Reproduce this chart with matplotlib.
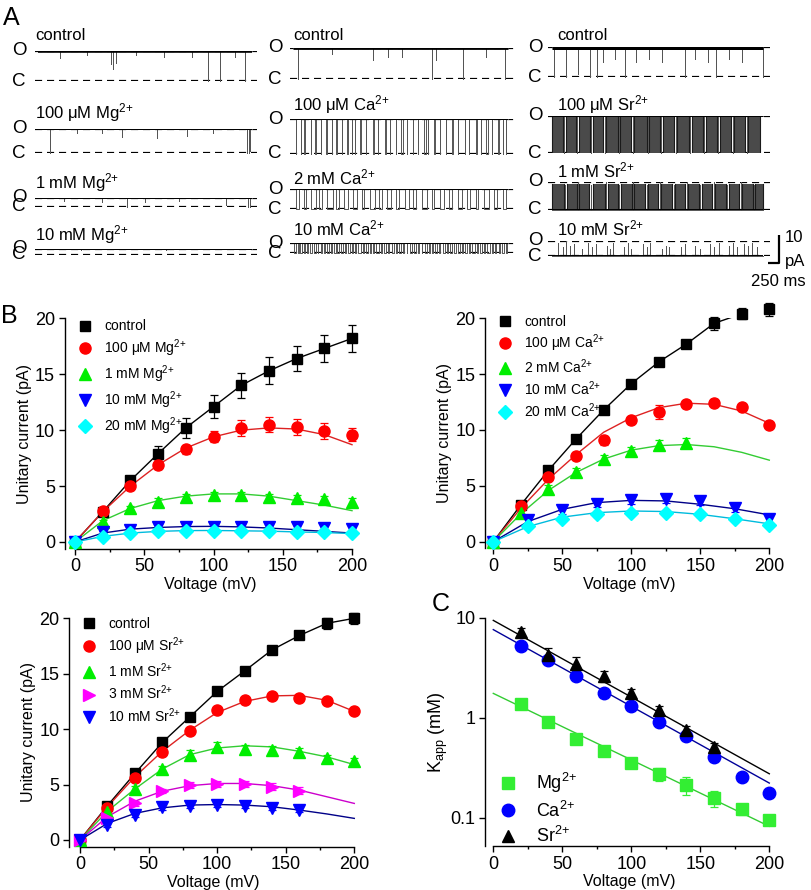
import numpy as np
import matplotlib
matplotlib.use("Agg")
import matplotlib.pyplot as plt
from matplotlib.lines import Line2D

plt.rcParams["font.family"] = ["Liberation Sans", "DejaVu Sans"]
plt.rcParams["mathtext.fontset"] = "custom"
plt.rcParams["mathtext.rm"] = "Liberation Sans"
plt.rcParams["mathtext.it"] = "Liberation Sans:italic"
plt.rcParams["mathtext.default"] = "regular"

W, H = 812, 890
SUP = r"$^{2{+}}$"

# ---------------- panel A: single-channel traces (events in ms) ----------------
T_MS = 5000
trace_labels = [
    ["control", "100 μM Mg" + SUP, "1 mM Mg" + SUP, "10 mM Mg" + SUP],
    ["control", "100 μM Ca" + SUP, "2 mM Ca" + SUP, "10 mM Ca" + SUP],
    ["control", "100 μM Sr" + SUP, "1 mM Sr" + SUP, "10 mM Sr" + SUP],
]
# apparent unitary amplitude (pA) of each trace
trace_amp = [
    [10.8, 8.9, 3.2, 2.1],
    [11.1, 12.5, 7.1, 3.6],
    [10.7, 13.2, 10.0, 5.4],
]
# level the channel mostly sits at
trace_base = [
    ["O", "O", "O", "O"],
    ["O", "O", "O", "O"],
    ["O", "O", "C", "C"],
]
# events: (time ms, duration ms, fraction of the way to the other level)
mg_ctrl = [(520, 0, .25), (1150, 0, .15), (1700, 0, .45), (1760, 0, .6), (1820, 0, .4),
           (2300, 0, .15), (2950, 0, .2), (3600, 0, .2), (3980, 0, 1), (4250, 0, 1),
           (4600, 0, .2), (4840, 0, 1)]
mg_100u = [(280, 0, 1), (900, 0, .2), (1500, 0, .2), (1960, 0, .35), (2780, 0, .4),
           (3480, 0, .3), (4100, 0, .2), (4880, 0, 1), (4920, 0, 1), (4960, 0, .9)]
mg_1m = [(600, 0, .4), (1500, 0, .5), (2080, 0, 1), (2500, 0, .5), (3300, 0, .4),
         (4400, 0, .8), (4900, 0, 1), (4950, 0, 1)]
mg_10m = [(1000, 0, .3), (3000, 0, .3)]

ca_ctrl = [(110, 0, 1), (900, 0, .2), (1860, 0, .4), (2200, 0, .3), (2530, 0, .3),
           (3230, 0, 1), (3330, 0, .4), (3950, 0, 1), (4500, 0, .3), (4930, 0, 1)]
ca_100u = [(60, 20, 1), (180, 0, 1), (250, 30, 1), (420, 0, 1), (520, 25, 1), (640, 0, 1),
           (760, 40, 1), (900, 0, 1), (1010, 20, 1), (1150, 0, 1), (1260, 30, 1), (1380, 0, 1),
           (1450, 0, 1), (1560, 25, 1), (1700, 0, 1), (1850, 35, 1), (1980, 0, 1), (2150, 20, 1),
           (2250, 0, 1), (2400, 0, 1), (2520, 30, 1), (2640, 0, 1), (2780, 20, 1), (2900, 0, 1),
           (3050, 40, 1), (3150, 0, 1), (3280, 25, 1), (3420, 0, 1), (3560, 0, 1), (3700, 30, 1),
           (3830, 0, 1), (3990, 20, 1), (4100, 0, 1), (4260, 30, 1), (4380, 0, 1), (4500, 25, 1),
           (4620, 0, 1), (4760, 20, 1), (4880, 0, 1), (4950, 0, 1)]
ca_2m = [(60, 90, 1), (250, 60, 1), (420, 110, 1), (610, 70, 1), (800, 120, 1), (1000, 60, 1),
         (1180, 100, 1), (1400, 80, 1), (1600, 60, 1), (1780, 120, 1), (1990, 70, 1),
         (2180, 100, 1), (2400, 60, 1), (2600, 90, 1), (2800, 70, 1), (3000, 110, 1),
         (3230, 60, 1), (3420, 90, 1), (3620, 70, 1), (3830, 100, 1), (4040, 80, 1),
         (4250, 60, 1), (4450, 110, 1), (4680, 70, 1), (4880, 80, 1)]
ca_10m = [(30, 40, 1), (110, 20, 1), (170, 50, 1), (260, 30, 1), (330, 20, 1), (390, 60, 1),
          (500, 30, 1), (570, 20, 1), (640, 40, 1), (720, 30, 1), (790, 50, 1), (880, 20, 1),
          (950, 40, 1), (1030, 30, 1), (1110, 60, 1), (1220, 20, 1), (1290, 40, 1), (1370, 30, 1),
          (1450, 20, 1), (1520, 50, 1), (1620, 30, 1), (1700, 40, 1), (1790, 20, 1), (1860, 30, 1),
          (1940, 60, 1), (2050, 20, 1), (2120, 40, 1), (2210, 30, 1), (2300, 50, 1), (2400, 20, 1),
          (2470, 40, 1), (2560, 30, 1), (2640, 20, 1), (2710, 60, 1), (2820, 30, 1), (2900, 40, 1),
          (2990, 20, 1), (3060, 50, 1), (3160, 30, 1), (3240, 20, 1), (3310, 40, 1), (3400, 30, 1),
          (3480, 60, 1), (3590, 20, 1), (3660, 40, 1), (3750, 30, 1), (3830, 50, 1), (3930, 20, 1),
          (4000, 40, 1), (4090, 30, 1), (4170, 60, 1), (4280, 20, 1), (4350, 40, 1), (4440, 30, 1),
          (4520, 50, 1), (4620, 20, 1), (4690, 40, 1), (4780, 30, 1), (4860, 50, 1), (4950, 20, 1)]

sr_ctrl = [(40, 0, 1), (320, 0, 1), (620, 0, .9), (900, 0, 1), (1060, 0, 1), (1200, 0, .5),
           (1500, 0, .4), (1720, 0, 1), (2000, 0, .5), (2300, 0, .4), (2600, 0, .5), (3140, 0, 1),
           (3400, 0, .4), (3700, 0, .5), (3890, 0, 1), (4200, 0, .4), (4500, 0, .5), (4990, 0, 1)]
sr_100u = [(280, 0, 1), (600, 0, 1), (930, 0, 1), (1250, 0, 1), (1590, 0, 1), (1910, 0, 1),
           (2270, 0, 1), (2590, 0, 1), (2930, 0, 1), (3280, 0, 1), (3610, 0, 1), (3930, 0, 1),
           (4280, 0, 1), (4610, 0, 1)]
sr_1m = [(310, 0, .9), (620, 0, 1), (920, 0, .9), (1280, 0, 1), (1590, 0, .9), (1920, 0, 1),
         (2240, 0, .9), (2550, 0, 1), (2880, 0, .9), (3190, 0, 1), (3510, 0, .9), (3830, 0, 1),
         (4150, 0, .9), (4470, 0, 1), (4790, 0, .9)]
sr_10m = [(150, 0, .9), (250, 0, .6), (330, 0, 1), (420, 0, .7), (520, 0, .8), (700, 0, .5),
          (850, 0, .9), (950, 0, .6), (1050, 0, .8), (1300, 0, .7), (1380, 0, .5), (1450, 0, .9),
          (1700, 0, .6), (1800, 0, .9), (1880, 0, .5), (2150, 0, .8), (2250, 0, .6), (2330, 0, .9),
          (2600, 0, .5), (2700, 0, .7), (2780, 0, .6), (3050, 0, .6), (3150, 0, .8), (3400, 0, .7),
          (3500, 0, .5), (3750, 0, .8), (3850, 0, .6), (3950, 0, .9), (4200, 0, .7), (4280, 0, .9),
          (4380, 0, .6), (4550, 0, .8), (4650, 0, .7), (4750, 0, .9), (4850, 0, .6)]
# dense flicker bursts (start ms, end ms)
sr_100u_bursts = [(0, 250), (320, 560), (640, 900), (960, 1220), (1290, 1560), (1620, 1880),
                  (1950, 2240), (2300, 2560), (2620, 2900), (2970, 3250), (3320, 3580),
                  (3650, 3900), (3970, 4250), (4320, 4580), (4650, 4920)]
sr_1m_bursts = [(0, 280), (350, 600), (650, 880), (960, 1250), (1320, 1560), (1630, 1900),
                (1950, 2200), (2280, 2520), (2590, 2850), (2920, 3150), (3230, 3480),
                (3550, 3800), (3870, 4120), (4190, 4430), (4510, 4760), (4820, 4990)]

trace_events = [
    [mg_ctrl, mg_100u, mg_1m, mg_10m],
    [ca_ctrl, ca_100u, ca_2m, ca_10m],
    [sr_ctrl, sr_100u, sr_1m, sr_10m],
]
trace_bursts = [
    [[], [], [], []],
    [[], [], [], []],
    [[], sr_100u_bursts, sr_1m_bursts, []],
]

# ---------------- panel B: I-V relations ----------------
v_b = [0, 20, 40, 60, 80, 100, 120, 140, 160, 180, 200]
v_b25 = [0, 25, 50, 75, 100, 125, 150, 175, 200]

mg_ctrl_i = [0, 2.7, 5.5, 7.9, 10.2, 12.1, 14.0, 15.3, 16.4, 17.3, 18.2]
mg_ctrl_e = [0, 0.2, 0.35, 0.7, 0.9, 1.0, 1.1, 1.2, 1.15, 1.2, 1.2]
mg_100u_i = [0, 2.8, 5.0, 6.9, 8.3, 9.4, 10.2, 10.5, 10.3, 9.9, 9.6]
mg_100u_e = [0, 0.2, 0.35, 0.4, 0.4, 0.5, 0.7, 0.65, 0.7, 0.7, 0.6]
mg_1m_i = [0, 1.8, 3.0, 3.6, 4.0, 4.2, 4.2, 4.0, 3.9, 3.8, 3.6]
mg_1m_e = [0, 0.15, 0.2, 0.3, 0.3, 0.3, 0.3, 0.3, 0.3, 0.3, 0.3]
mg_10m_i = [0, 0.9, 1.1, 1.3, 1.35, 1.35, 1.35, 1.3, 1.3, 1.25, 1.2]
mg_10m_e = [0, 0.1, 0.15, 0.2, 0.2, 0.25, 0.3, 0.25, 0.25, 0.2, 0.2]
mg_20m_i = [0, 0.45, 0.8, 0.95, 1.0, 1.0, 0.95, 0.95, 0.9, 0.85, 0.8]
mg_20m_e = [0, 0.1, 0.1, 0.1, 0.1, 0.1, 0.1, 0.1, 0.1, 0.1, 0.1]
mg_100u_fit = [0, 2.7, 5.0, 6.9, 8.4, 9.4, 10.0, 10.2, 10.1, 9.6, 8.7]
mg_1m_fit = [0, 1.9, 3.0, 3.7, 4.1, 4.3, 4.3, 4.1, 3.7, 3.3, 2.8]
mg_10m_fit = [0, 0.8, 1.15, 1.3, 1.38, 1.4, 1.35, 1.25, 1.1, 0.95, 0.8]
mg_20m_fit = [0, 0.5, 0.8, 0.95, 1.02, 1.03, 1.0, 0.97, 0.9, 0.85, 0.75]

ca_ctrl_i = [0, 3.3, 6.4, 9.2, 11.8, 14.15, 16.1, 17.7, 19.55, 20.4, 20.8]
ca_ctrl_e = [0, 0.3, 0.3, 0.3, 0.3, 0.3, 0.3, 0.3, 0.6, 0.5, 0.6]
ca_100u_i = [0, 3.2, 5.8, 7.7, 9.1, 10.9, 11.6, 12.3, 12.45, 12.05, 10.45]
ca_100u_e = [0, 0.3, 0.3, 0.3, 0.4, 0.3, 0.6, 0.3, 0.3, 0.3, 0.3]
ca_2m_i = [0, 2.6, 4.7, 6.2, 7.4, 8.1, 8.7, 8.85]
ca_2m_e = [0, 0.3, 0.4, 0.4, 0.4, 0.4, 0.4, 0.4]
ca_10m_i = [0, 1.9, 2.8, 3.4, 3.7, 3.8, 3.6, 3.0, 2.0]
ca_10m_e = [0, 0.3, 0.3, 0.3, 0.3, 0.3, 0.3, 0.3, 0.3]
ca_20m_i = [0, 1.45, 2.05, 2.45, 2.6, 2.6, 2.45, 2.05, 1.5]
ca_20m_e = [0, 0.2, 0.2, 0.2, 0.2, 0.2, 0.2, 0.2, 0.2]
ca_100u_fit = [0, 3.0, 5.6, 7.8, 9.8, 11.1, 12.0, 12.4, 12.3, 11.7, 10.6]
ca_2m_fit = [0, 2.5, 4.6, 6.2, 7.4, 8.2, 8.6, 8.7, 8.5, 8.0, 7.3]
ca_10m_fit = [0, 1.8, 2.9, 3.5, 3.7, 3.65, 3.35, 2.95, 2.4]
ca_20m_fit = [0, 1.35, 2.2, 2.6, 2.75, 2.7, 2.45, 2.05, 1.6]

sr_ctrl_i = [0, 3.1, 6.0, 8.8, 11.1, 13.4, 15.25, 17.15, 18.45, 19.55, 20.0]
sr_ctrl_e = [0, 0.2, 0.2, 0.3, 0.3, 0.3, 0.3, 0.3, 0.3, 0.5, 0.5]
sr_100u_i = [0, 2.9, 5.6, 7.95, 9.8, 11.7, 12.65, 12.95, 12.85, 12.5, 11.65]
sr_100u_e = [0, 0.2, 0.2, 0.2, 0.2, 0.2, 0.2, 0.2, 0.2, 0.2, 0.2]
sr_1m_i = [0, 2.5, 4.6, 6.4, 7.7, 8.4, 8.2, 8.1, 7.9, 7.4, 7.1]
sr_1m_e = [0, 0.2, 0.3, 0.3, 0.4, 0.4, 0.4, 0.4, 0.4, 0.3, 0.3]
sr_3m_i = [0, 2.0, 3.3, 4.4, 4.95, 5.05, 5.05, 4.8, 4.45]
sr_3m_e = [0, 0.2, 0.2, 0.2, 0.3, 0.3, 0.3, 0.3, 0.3]
sr_10m_i = [0, 1.35, 2.25, 2.95, 3.1, 3.15, 3.1, 2.9, 2.7]
sr_10m_e = [0, 0.2, 0.2, 0.2, 0.2, 0.2, 0.2, 0.2, 0.2]
sr_100u_fit = [0, 3.0, 5.7, 8.0, 9.9, 11.5, 12.5, 13.0, 13.05, 12.6, 11.6]
sr_1m_fit = [0, 2.6, 4.6, 6.4, 7.7, 8.3, 8.5, 8.4, 8.0, 7.5, 6.8]
sr_3m_fit = [0, 2.1, 3.5, 4.4, 4.9, 5.1, 5.1, 4.9, 4.5, 3.9, 3.3]
sr_10m_fit = [0, 1.5, 2.4, 2.9, 3.15, 3.2, 3.15, 3.0, 2.7, 2.35, 1.95]

# ---------------- panel C: Kapp vs voltage ----------------
v_c = [20, 40, 60, 80, 100, 120, 140, 160, 180, 200]
v_c_sr = [20, 40, 60, 80, 100, 120, 140, 160]
kapp_mg = [1.36, 0.91, 0.61, 0.46, 0.356, 0.272, 0.213, 0.157, 0.122, 0.095]
kapp_mg_e = [0.08, 0.05, 0.04, 0.03, 0.03, 0.04, 0.045, 0.03, 0.015, 0.01]
kapp_ca = [5.22, 3.81, 2.6, 1.78, 1.31, 0.905, 0.656, 0.40, 0.254, 0.176]
kapp_ca_e = [0.3, 0.2, 0.15, 0.08, 0.06, 0.05, 0.03, 0.02, 0.01, 0.01]
kapp_sr = [7.2, 4.28, 3.48, 2.6, 1.78, 1.19, 0.753, 0.514]
kapp_sr_e = [0.6, 0.7, 0.6, 0.3, 0.15, 0.12, 0.08, 0.05]
v_fit = [0, 200]
kapp_mg_fit = [1.75, 0.082]
kapp_ca_fit = [7.6, 0.222]
kapp_sr_fit = [9.4, 0.275]

fig = plt.figure(figsize=(W / 100, H / 100), dpi=100)


def box_px(x0, y0, x1, y1):
    return [x0 / W, 1 - y1 / H, (x1 - x0) / W, (y1 - y0) / H]


def ftext(x, y, s, **kw):
    fig.text(x / W, 1 - y / H, s, **kw)


# ---- panel A layout (pixels) ----
# column: label x, O/C letter x, dashed start, trace start, trace end, dashed end
cols_px = [
    (35, 19, 35, 38, 252, 257),
    (293, 275, 290, 293, 508, 515),
    (557, 535, 548, 552, 763, 770),
]
rows_px = [
    [(36, 50.7, 81), (113, 128.5, 153.3), (183, 197.5, 206.5), (235, 248.5, 254.5)],
    [(36, 48, 79), (105, 119, 154), (177, 189, 209), (228, 243, 253)],
    [(36, 47, 77), (105, 116, 153), (170, 182, 210), (228, 241, 256)],
]
ctrl_lw = [2.6, 2.0, 3.6]

ftext(3, 18, "A", fontsize=18, va="center")
for ci in range(3):
    lab_x, let_x, dx0, tx0, tx1, dx1 = cols_px[ci]
    mpp = T_MS / (tx1 - tx0)
    for ri in range(4):
        lab_y, yo, yc = rows_px[ci][ri]
        amp = trace_amp[ci][ri]
        ax = fig.add_axes(box_px(dx0, yo, dx1, yc))
        ax.set_xlim(-(tx0 - dx0) * mpp, T_MS + (dx1 - tx1) * mpp)
        ax.set_ylim(0, amp)
        ax.axis("off")
        xl = ax.get_xlim()
        for lvl in (0, amp):
            ax.plot(xl, [lvl, lvl], color="black", lw=1.6, dashes=(3.2, 2.2), zorder=1)
        base = amp if trace_base[ci][ri] == "O" else 0.0
        other = amp - base
        # dense flicker bursts
        for t0, t1 in trace_bursts[ci][ri]:
            top = amp if base > 0 else amp * 0.92
            ax.fill_between([t0, t1], [0, 0], [top, top], color="#4a4a4a", lw=0, zorder=2)
            ax.plot([t0, t0], [0, top], color="#1a1a1a", lw=0.8, zorder=3)
            ax.plot([t1, t1], [0, top], color="#1a1a1a", lw=0.8, zorder=3)
        # step trace
        xs, ys = [0], [base]
        for t, d, f in trace_events[ci][ri]:
            lvl = base + (other - base) * f
            xs += [t, t, t + d, t + d]
            ys += [base, lvl, lvl, base]
        xs.append(T_MS)
        ys.append(base)
        ax.plot(xs, ys, color="#555555", lw=0.7, zorder=3, clip_on=False)
        ax.plot([0, T_MS], [base, base], color="black",
                lw=ctrl_lw[ci] if ri == 0 else 1.4, zorder=4, solid_capstyle="butt")
        ftext(lab_x, lab_y, trace_labels[ci][ri], fontsize=12, va="center")
        ftext(let_x, yo, "O", fontsize=13.5, va="center", ha="center")
        ftext(let_x, yc, "C", fontsize=13.5, va="center", ha="center")
        if ci == 2 and ri == 3:
            # scale bar: 10 pA, 250 ms
            xb = T_MS + 16 * mpp
            yb = -(263 - yc) * amp / (yc - yo)
            ax.plot([xb - 250, xb, xb], [yb, yb, yb + 10], color="black", lw=1.6,
                    clip_on=False, solid_capstyle="butt")
ftext(785, 237, "10", fontsize=12, va="center")
ftext(785, 262, "pA", fontsize=12, va="center")
ftext(806, 281, "250 ms", fontsize=12, va="center", ha="right")


# ---- panels B and C ----
def make_axes(xcal, ycal, xlim, ylim, log=False):
    (va, pa, vb, pb) = xcal
    sx = (pb - pa) / (vb - va)
    x0 = pa + (xlim[0] - va) * sx
    x1 = pa + (xlim[1] - va) * sx
    (ua, qa, ub, qb) = ycal
    if log:
        fy = lambda v: np.log10(v)
    else:
        fy = lambda v: v
    sy = (qb - qa) / (fy(ub) - fy(ua))
    y_top = qa + (fy(ylim[1]) - fy(ua)) * sy
    y_bot = qa + (fy(ylim[0]) - fy(ua)) * sy
    ax = fig.add_axes(box_px(x0, y_top, x1, y_bot))
    ax.set_xlim(*xlim)
    if log:
        ax.set_yscale("log")
    ax.set_ylim(*ylim)
    for s in ("top", "right"):
        ax.spines[s].set_visible(False)
    ax.spines["bottom"].set_bounds(0, 200)
    ax.set_xticks([0, 50, 100, 150, 200])
    ax.set_xticks([25, 75, 125, 175], minor=True)
    ax.tick_params(which="major", direction="out", length=4, width=1, labelsize=13, pad=3)
    ax.tick_params(which="minor", direction="out", length=2.5, width=1)
    for s in ("left", "bottom"):
        ax.spines[s].set_linewidth(1)
    ax.set_xlabel("Voltage (mV)", fontsize=11.5, labelpad=1)
    return ax


def iv_series(ax, v, i, e, marker, color, ms):
    ax.errorbar(v, i, yerr=e, fmt=marker, color=color, ms=ms, mec=color,
                capsize=3, elinewidth=0.9, capthick=0.9, ls="none",
                zorder=3, clip_on=False)
    return Line2D([], [], marker=marker, color=color, mec=color, ms=ms, ls="none")


def add_legend(ax, handles, labels, anchor, fs, spacing):
    ax.legend(handles, labels, loc="upper left", bbox_to_anchor=anchor, frameon=False,
              fontsize=fs, handlelength=1.0, handletextpad=0.9, labelspacing=spacing,
              borderaxespad=0, borderpad=0)


ms_b = 7.5

# Mg
ax = make_axes((0, 75, 200, 352), (0, 542, 20, 318.3), (-7.5, 203), (-0.6, 20))
ax.plot(v_b, mg_ctrl_i, color="black", lw=1)
ax.plot(v_b, mg_100u_fit, color="#dd2222", lw=1)
ax.plot(v_b, mg_1m_fit, color="#33cc33", lw=1)
ax.plot(v_b, mg_10m_fit, color="#000088", lw=1)
ax.plot(v_b, mg_20m_fit, color="#00bbdd", lw=1)
hs = [iv_series(ax, v_b, mg_ctrl_i, mg_ctrl_e, "s", "black", ms_b),
      iv_series(ax, v_b, mg_100u_i, mg_100u_e, "o", "#ff0000", ms_b + 0.5),
      iv_series(ax, v_b, mg_1m_i, mg_1m_e, "^", "#00ee00", ms_b + 0.5),
      iv_series(ax, v_b, mg_10m_i, mg_10m_e, "v", "#0000ff", ms_b + 0.5),
      iv_series(ax, v_b, mg_20m_i, mg_20m_e, "D", "#00ffff", ms_b - 0.5)]
ax.set_yticks([0, 5, 10, 15, 20])
ax.set_ylabel("Unitary current (pA)", fontsize=11.5, labelpad=2)
add_legend(ax, hs, ["control", "100 μM Mg" + SUP, "1 mM Mg" + SUP, "10 mM Mg" + SUP,
                    "20 mM Mg" + SUP], (0.045, 0.995), 10, 0.3)
ftext(1, 316, "B", fontsize=18, va="center")

# Ca
ax = make_axes((0, 493.3, 200, 769.3), (0, 541.7, 20, 318.3), (-6, 203), (-0.6, 20))
ax.plot(v_b, ca_ctrl_i, color="black", lw=1)
ax.plot(v_b, ca_100u_fit, color="#dd2222", lw=1)
ax.plot(v_b, ca_2m_fit, color="#33cc33", lw=1)
ax.plot(v_b25, ca_10m_fit, color="#000088", lw=1)
ax.plot(v_b25, ca_20m_fit, color="#00bbdd", lw=1)
hs = [iv_series(ax, v_b, ca_ctrl_i, ca_ctrl_e, "s", "black", ms_b),
      iv_series(ax, v_b, ca_100u_i, ca_100u_e, "o", "#ff0000", ms_b + 0.5),
      iv_series(ax, v_b[:8], ca_2m_i, ca_2m_e, "^", "#00ee00", ms_b + 0.5),
      iv_series(ax, v_b25, ca_10m_i, ca_10m_e, "v", "#0000ff", ms_b + 0.5),
      iv_series(ax, v_b25, ca_20m_i, ca_20m_e, "D", "#00ffff", ms_b - 0.5)]
ax.set_yticks([0, 5, 10, 15, 20])
ax.set_ylabel("Unitary current (pA)", fontsize=11.5, labelpad=2)
add_legend(ax, hs, ["control", "100 μM Ca" + SUP, "2 mM Ca" + SUP, "10 mM Ca" + SUP,
                    "20 mM Ca" + SUP], (0.045, 1.013), 10, 0.24)

# Sr
ax = make_axes((0, 80, 200, 354.3), (0, 840, 20, 618.3), (-8, 203), (-0.6, 20))
ax.plot(v_b, sr_ctrl_i, color="black", lw=1)
ax.plot(v_b, sr_100u_fit, color="#dd2222", lw=1)
ax.plot(v_b, sr_1m_fit, color="#33cc33", lw=1)
ax.plot(v_b, sr_3m_fit, color="#cc00cc", lw=1)
ax.plot(v_b, sr_10m_fit, color="#000088", lw=1)
hs = [iv_series(ax, v_b, sr_ctrl_i, sr_ctrl_e, "s", "black", ms_b),
      iv_series(ax, v_b, sr_100u_i, sr_100u_e, "o", "#ff0000", ms_b + 0.5),
      iv_series(ax, v_b, sr_1m_i, sr_1m_e, "^", "#00ee00", ms_b + 0.5),
      iv_series(ax, v_b[:9], sr_3m_i, sr_3m_e, ">", "#ff00ff", ms_b + 0.5),
      iv_series(ax, v_b[:9], sr_10m_i, sr_10m_e, "v", "#0000ff", ms_b + 0.5)]
ax.set_yticks([0, 5, 10, 15, 20])
ax.set_ylabel("Unitary current (pA)", fontsize=11.5, labelpad=2)
add_legend(ax, hs, ["control", "100 μM Sr" + SUP, "1 mM Sr" + SUP, "3 mM Sr" + SUP,
                    "10 mM Sr" + SUP], (0.045, 1.005), 10, 0.3)

# Kapp
ax = make_axes((0, 493.3, 200, 769.3), (1, 717.7, 10, 617.7), (-6, 203), (0.052, 10), log=True)
ax.plot(v_fit, kapp_mg_fit, color="#33cc33", lw=1)
ax.plot(v_fit, kapp_ca_fit, color="#000099", lw=1)
ax.plot(v_fit, kapp_sr_fit, color="black", lw=1)
hs = [iv_series(ax, v_c, kapp_mg, kapp_mg_e, "s", "#33ee33", 8),
      iv_series(ax, v_c, kapp_ca, kapp_ca_e, "o", "#0000ff", 9),
      iv_series(ax, v_c_sr, kapp_sr, kapp_sr_e, "^", "black", 8.5)]
ax.set_yticks([0.1, 1, 10])
ax.set_yticklabels(["0.1", "1", "10"])
ax.yaxis.set_minor_locator(matplotlib.ticker.NullLocator())
ax.set_ylabel(r"K$_{app}$ (mM)", fontsize=13, labelpad=0)
ax.legend(hs, ["Mg" + SUP, "Ca" + SUP, "Sr" + SUP], loc="lower left",
          bbox_to_anchor=(0.05, 0.0), frameon=False, fontsize=13, handlelength=1.0,
          handletextpad=1.0, labelspacing=0.3, borderaxespad=0, borderpad=0)
ftext(432, 604, "C", fontsize=18, va="center")

fig.savefig("out.png", dpi=100)
